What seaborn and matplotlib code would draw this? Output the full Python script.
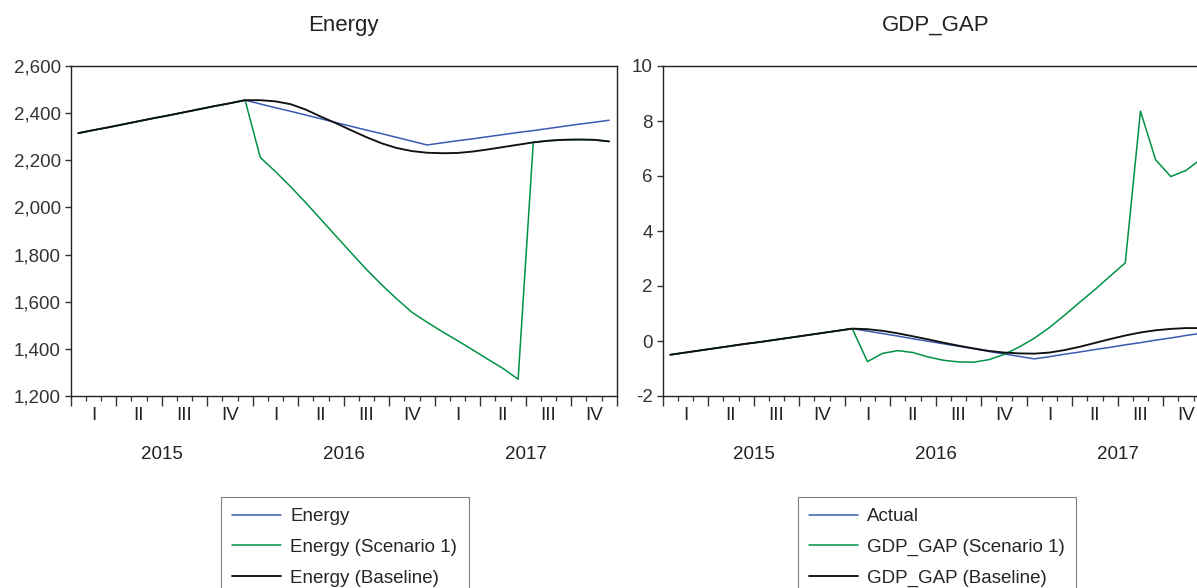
import numpy as np
import pandas as pd
import matplotlib.pyplot as plt
import matplotlib.ticker as mtick
import seaborn as sns

# ─── STYLE ────────────────────────────────────────────────────────────────────
sns.set_theme(style="ticks")
plt.rcParams.update({
    "font.family": ["Liberation Sans", "DejaVu Sans"],
    "axes.linewidth": 1.0,
    "axes.edgecolor": "#222222",
    "xtick.color": "#333333",
    "ytick.color": "#333333",
})
BLUE, GREEN, BLACK = "#3A5BB0", "#009245", "#111111"

# ─── DATA (monthly, 2015M01 – 2017M12) ───────────────────────────────────────
months = pd.period_range("2015-01", "2017-12", freq="M")
quarter_labels = ["I", "II", "III", "IV"]
year_labels = ["2015", "2016", "2017"]

energy_actual = [2315, 2328, 2340, 2353, 2366, 2379, 2391, 2404, 2417, 2430, 2442, 2455,
                 2439, 2423, 2408, 2392, 2376, 2360, 2344, 2328, 2313, 2297, 2281, 2265,
                 2274, 2283, 2291, 2300, 2309, 2318, 2326, 2335, 2344, 2353, 2361, 2370]
energy_scen1 = [2315, 2328, 2340, 2353, 2366, 2379, 2391, 2404, 2417, 2430, 2442, 2455,
                2212, 2152, 2088, 2020, 1949, 1878, 1807, 1737, 1672, 1612, 1555, 1513,
                1473, 1435, 1396, 1356, 1317, 1271, 2276, 2283, 2287, 2288, 2287, 2280]
energy_base = [2315, 2328, 2340, 2353, 2366, 2379, 2391, 2404, 2417, 2430, 2442, 2455,
               2455, 2450, 2438, 2415, 2385, 2357, 2327, 2298, 2272, 2252, 2239, 2232,
               2230, 2231, 2237, 2246, 2256, 2266, 2276, 2283, 2287, 2288, 2287, 2280]

gap_actual = [-0.50, -0.42, -0.34, -0.26, -0.18, -0.10, -0.03, 0.05, 0.13, 0.21, 0.29, 0.37,
              0.45, 0.36, 0.27, 0.18, 0.08, -0.01, -0.10, -0.19, -0.28, -0.38, -0.47, -0.56,
              -0.65, -0.57, -0.48, -0.40, -0.31, -0.23, -0.14, -0.06, 0.03, 0.11, 0.20, 0.28]
gap_scen1 = [-0.50, -0.42, -0.34, -0.26, -0.18, -0.10, -0.03, 0.05, 0.13, 0.21, 0.29, 0.37,
             0.45, -0.75, -0.45, -0.35, -0.42, -0.58, -0.70, -0.76, -0.77, -0.68, -0.49, -0.22,
             0.10, 0.49, 0.94, 1.41, 1.87, 2.36, 2.84, 8.36, 6.59, 5.98, 6.20, 6.62]
gap_base = [-0.50, -0.42, -0.34, -0.26, -0.18, -0.10, -0.03, 0.05, 0.13, 0.21, 0.29, 0.37,
            0.45, 0.43, 0.37, 0.28, 0.17, 0.06, -0.06, -0.17, -0.27, -0.36, -0.42, -0.45,
            -0.46, -0.42, -0.33, -0.21, -0.07, 0.07, 0.20, 0.31, 0.39, 0.44, 0.47, 0.47]

panels = [
    ("Energy", energy_actual, energy_scen1, energy_base,
     ["Energy", "Energy (Scenario 1)", "Energy (Baseline)"],
     (1200, 2600), 200, lambda v, _: f"{v:,.0f}"),
    ("GDP_GAP", gap_actual, gap_scen1, gap_base,
     ["Actual", "GDP_GAP (Scenario 1)", "GDP_GAP (Baseline)"],
     (-2, 10), 2, lambda v, _: f"{v:.0f}"),
]

# observation sits in the middle of its month slot
x = np.arange(len(months)) + 0.5

# ─── FIGURE ───────────────────────────────────────────────────────────────────
W, H = 1197, 588
fig = plt.figure(figsize=(W / 100, H / 100), dpi=100)
ax_left = [70.7, 662.7]
legend_left = [221, 798]

for k, (title, act, scen, base, labels, ylim, ystep, fmt) in enumerate(panels):
    ax = fig.add_axes([ax_left[k] / W, (H - 396) / H, 546 / W, 330 / H])
    for vals, col, lw, lab in zip([act, scen, base], [BLUE, GREEN, BLACK],
                                  [1.1, 1.1, 1.35], labels):
        sns.lineplot(x=x, y=vals, ax=ax, color=col, linewidth=lw, label=lab)

    ax.set_xlim(0, len(months))
    ax.set_ylim(*ylim)
    ax.set_yticks(np.arange(ylim[0], ylim[1] + ystep, ystep))
    ax.yaxis.set_major_formatter(mtick.FuncFormatter(fmt))
    ax.set_xticks(np.arange(0, len(months) + 1, 3))
    ax.set_xticks(np.arange(0, len(months) + 1, 1), minor=True)
    ax.set_xticklabels([])
    ax.tick_params(axis="x", which="major", length=7, width=1.0, direction="out")
    ax.tick_params(axis="x", which="minor", length=3.5, width=0.9, direction="out")
    ax.tick_params(axis="y", length=4, width=1.0, direction="out",
                   labelsize=13.5, pad=3)
    ax.set_xlabel("")
    ax.set_ylabel("")

    trans = ax.get_xaxis_transform()
    for q in range(len(months) // 3):
        ax.text(3 * q + 1.5, -0.058, quarter_labels[q % 4], transform=trans,
                ha="center", va="center", fontsize=13.5, color="#222222")
    for j, yr in enumerate(year_labels):
        ax.text(12 * j + 6, -0.176, yr, transform=trans,
                ha="center", va="center", fontsize=13.5, color="#222222")

    fig.text((ax_left[k] + 273) / W, 1 - 25 / H, title, ha="center", va="center",
             fontsize=16, color="#222222")

    handles, labs = ax.get_legend_handles_labels()
    ax.legend(handles, labs, loc="upper left",
              bbox_to_anchor=(legend_left[k] / W, 1 - 497 / H),
              bbox_transform=fig.transFigure, borderaxespad=0,
              fontsize=13.5, frameon=True, fancybox=False, framealpha=1,
              edgecolor="#808080", handlelength=2.6, handletextpad=0.5,
              borderpad=0.6, labelspacing=0.72)
    ax.get_legend().get_frame().set_linewidth(0.8)

fig.savefig("out.png", dpi=100)
print("  ✔  Saved out.png")
